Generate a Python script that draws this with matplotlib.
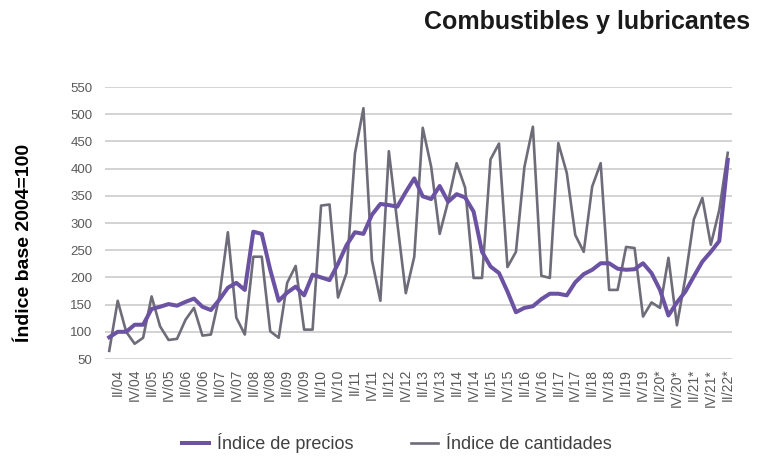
import matplotlib

matplotlib.use("Agg", force=True)

import matplotlib.pyplot as plt

# quarterly series, I/04 .. II/22
precios = [
    90, 100, 100, 113, 113, 142, 146, 151, 148, 155,
    161, 146, 140, 159, 181, 190, 177, 284, 280, 214,
    157, 172, 183, 167, 205, 200, 195, 225, 259, 283,
    280, 315, 335, 333, 330, 357, 382, 349, 344, 368,
    339, 353, 347, 321, 247, 220, 208, 174, 136, 144,
    147, 160, 170, 170, 167, 191, 206, 214, 226, 226,
    216, 214, 215, 226, 208, 177, 130, 154, 174, 202,
    229, 247, 267, 416,
]
cantidades = [
    65, 157, 100, 78, 89, 165, 110, 85, 87, 122,
    144, 93, 95, 165, 283, 126, 95, 238, 238, 101,
    89, 190, 221, 104, 104, 332, 334, 163, 208, 428,
    511, 232, 157, 432, 300, 171, 238, 475, 403, 280,
    340, 410, 365, 199, 199, 417, 446, 219, 247, 403,
    477, 203, 199, 447, 392, 278, 247, 367, 410, 177,
    177, 256, 254, 128, 154, 144, 236, 112, 200, 307,
    346, 260, 324, 429,
]
tick_labels = [
    "II/04", "IV/04", "II/05", "IV/05", "II/06", "IV/06", "II/07", "IV/07",
    "II/08", "IV/08", "II/09", "IV/09", "II/10", "IV/10", "II/11", "IV/11",
    "II/12", "IV/12", "II/13", "IV/13", "II/14", "IV/14", "II/15", "IV/15",
    "II/16", "IV/16", "II/17", "IV/17", "II/18", "IV/18", "II/19", "IV/19",
    "II/20*", "IV/20*", "II/21*", "IV/21*", "II/22*",
]

PURPLE = "#6b52a3"
GRAY = "#6e6c78"

plt.rcParams["font.family"] = ["Liberation Sans", "DejaVu Sans"]

fig = plt.figure(figsize=(7.7, 4.66), dpi=100)
ax = fig.add_axes([105 / 770, 1 - 359 / 466, 627 / 770, 272 / 466])

x = list(range(len(precios)))
ax.plot(x, cantidades, color=GRAY, lw=1.9, label="Índice de cantidades", zorder=3)
ax.plot(x, precios, color=PURPLE, lw=2.9, label="Índice de precios", zorder=4)

ax.set_xlim(-0.5, len(precios) - 0.5)
ax.set_ylim(50, 550)
ax.set_yticks(range(50, 551, 50))
ax.set_xticks(range(1, len(precios), 2))
ax.set_xticklabels(tick_labels, rotation=90)
ax.tick_params(axis="y", length=0, pad=9, labelsize=9.5, labelcolor="#595959")
ax.tick_params(axis="x", length=0, pad=7, labelsize=10, labelcolor="#595959")
ax.grid(axis="y", color="#d3d3d3", lw=1.4)
ax.set_axisbelow(True)
for s in ax.spines.values():
    s.set_visible(False)

fig.text(25 / 770, 1 - 243 / 466, "Índice base 2004=100", rotation=90,
         ha="center", va="center", fontsize=14, fontweight="bold")
fig.text(750 / 770, 1 - 22 / 466, "Combustibles y lubricantes", ha="right",
         va="center", fontsize=18, fontweight="bold", color="#1a1a1a")

h, l = ax.get_legend_handles_labels()
fig.legend(h[::-1], l[::-1], loc="center", bbox_to_anchor=(397 / 770, 1 - 443 / 466),
           ncol=2, frameon=False, fontsize=13, handlelength=1.5,
           handletextpad=0.45, columnspacing=3.2, labelcolor="#404040")

fig.savefig("out.png", dpi=100, facecolor="white")
